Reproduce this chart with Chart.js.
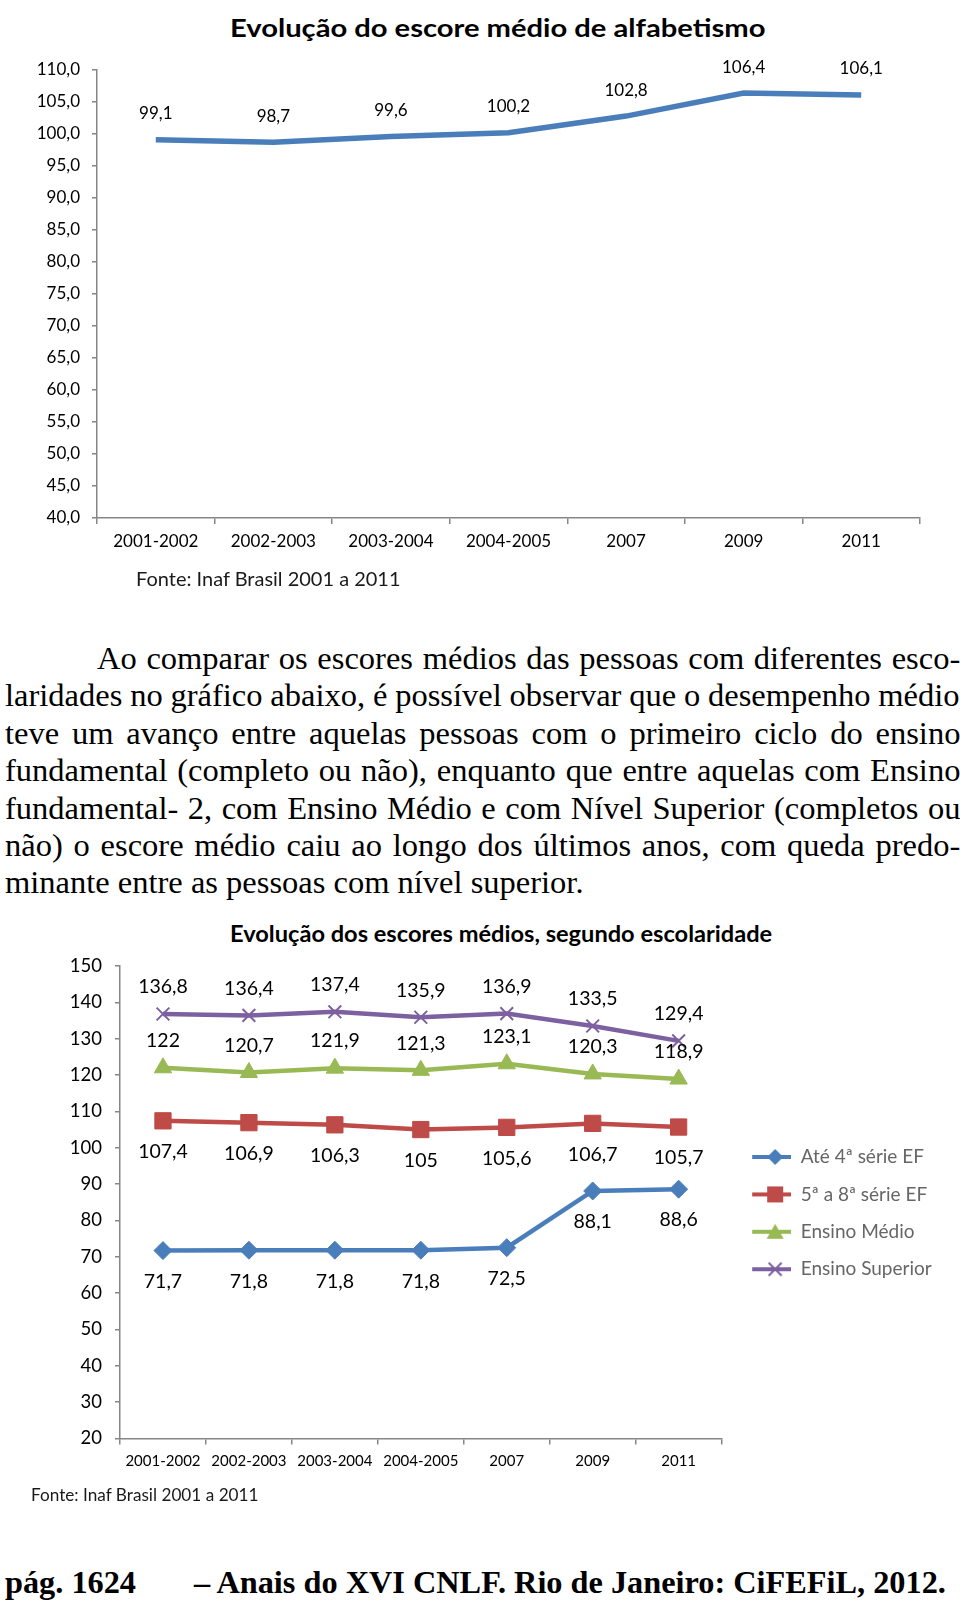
<!DOCTYPE html>
<html lang="pt-BR">
<head>
<meta charset="utf-8">
<title>Evolução do escore médio de alfabetismo</title>
<script src="https://cdn.jsdelivr.net/npm/chart.js@4.4.1/dist/chart.umd.min.js"></script>
<style>
    html, body { margin: 0; padding: 0; background: #fff; }
    body { width: 960px; height: 1603px; position: relative; overflow: hidden; font-family: Lato, sans-serif; color: #000; }
    canvas { position: absolute; left: 0; }
    #chart1 { top: 0; }
    #chart2 { top: 895px; }
    .chart-title { position: absolute; white-space: nowrap; font-weight: bold; line-height: 1; transform-origin: left center; }
    .source { position: absolute; white-space: nowrap; line-height: 1; color: #1a1a1a; transform-origin: left center; }
    .para { position: absolute; left: 5px; top: 640px; width: 955px; font-family: "Liberation Serif", "Times New Roman", serif; font-size: 32.5px; }
    .para div { height: 37.4px; line-height: 37.4px; white-space: nowrap; }
    .para div.first span { margin-left: 92px; }
    .footer { position: absolute; top: 1563px; font-family: "Liberation Serif", "Times New Roman", serif; font-weight: bold; font-size: 32.3px; white-space: nowrap; line-height: 38px; }
</style>
</head>
<body>

<div class="chart-title" data-w="535" style="left:230px; top:15px; font-size:25px;">Evolução do escore médio de alfabetismo</div>
<canvas id="chart1" width="960" height="600"></canvas>
<div class="source" data-w="265" style="left:136px; top:569px; font-size:19px;">Fonte: Inaf Brasil 2001 a 2011</div>

<div class="para">
    <div class="first"><span>Ao comparar os escores médios das pessoas com diferentes esco-</span></div>
    <div><span>laridades no gráfico abaixo, é possível observar que o desempenho médio</span></div>
    <div><span>teve um avanço entre aquelas pessoas com o primeiro ciclo do ensino</span></div>
    <div><span>fundamental (completo ou não), enquanto que entre aquelas com Ensino</span></div>
    <div><span>fundamental- 2, com Ensino Médio e com Nível Superior (completos ou</span></div>
    <div><span>não) o escore médio caiu ao longo dos últimos anos, com queda predo-</span></div>
    <div class="last"><span>minante entre as pessoas com nível superior.</span></div>
</div>

<div class="chart-title" data-w="542" style="left:230px; top:922px; font-size:23px;">Evolução dos escores médios, segundo escolaridade</div>
<canvas id="chart2" width="960" height="600"></canvas>
<div class="source" data-w="227" style="left:31px; top:1487px; font-size:16.5px;">Fonte: Inaf Brasil 2001 a 2011</div>

<div class="footer" style="left:5px;">pág. 1624</div>
<div class="footer" style="left:194px;">– Anais do XVI CNLF. Rio de Janeiro: CiFEFiL, 2012.</div>

<script>
// Categories (same for both charts)
const years = ['2001-2002', '2002-2003', '2003-2004', '2004-2005', '2007', '2009', '2011'];

// Chart 1: escore médio geral
const escoreMedio = [99.1, 98.7, 99.6, 100.2, 102.8, 106.4, 106.1];
const yMin1 = 40, yMax1 = 110, yStep1 = 5;

// Chart 2: escores por escolaridade
const seriesNames = ['Até 4ª série EF', '5ª a 8ª série EF', 'Ensino Médio', 'Ensino Superior'];
const ate4Serie = [71.7, 71.8, 71.8, 71.8, 72.5, 88.1, 88.6];
const serie5a8 = [107.4, 106.9, 106.3, 105, 105.6, 106.7, 105.7];
const ensinoMedio = [122, 120.7, 121.9, 121.3, 123.1, 120.3, 118.9];
const ensinoSuperior = [136.8, 136.4, 137.4, 135.9, 136.9, 133.5, 129.4];
const yMin2 = 20, yMax2 = 150, yStep2 = 10;

const axisColor = '#868686';
const comma = v => String(v).replace('.', ',');

// Stretch the title / source lines to the width they have in the original picture
document.querySelectorAll('[data-w]').forEach(el => {
    const w = parseFloat(el.dataset.w);
    el.style.transform = 'scaleX(' + (w / el.offsetWidth) + ')';
});

// Justify the paragraph line by line (each line kept as in the page)
document.querySelectorAll('.para div:not(.last)').forEach(line => {
    const span = line.querySelector('span');
    const indent = line.classList.contains('first') ? 92 : 0;
    const spaces = (span.textContent.match(/ /g) || []).length;
    const extra = line.clientWidth - indent - span.offsetWidth;
    if (spaces) span.style.wordSpacing = (extra / spaces) + 'px';
});

// Draws value labels next to each point, using the positions from the chart's scales
const pointLabels = {
    id: 'pointLabels',
    afterDatasetsDraw(chart, args, opts) {
        const ctx = chart.ctx;
        ctx.save();
        ctx.font = opts.font;
        ctx.fillStyle = '#000';
        ctx.textAlign = 'center';
        ctx.textBaseline = 'middle';
        chart.data.datasets.forEach((ds, i) => {
            const meta = chart.getDatasetMeta(i);
            meta.data.forEach((pt, j) => {
                ctx.fillText(opts.format(ds.data[j]), pt.x, pt.y + ds.labelOffset);
            });
        });
        ctx.restore();
    }
};

// Excel-style legend icon: short line with the marker in the middle
function legendIcon(color, style) {
    const c = document.createElement('canvas');
    c.width = 51;
    c.height = 20;
    const g = c.getContext('2d');
    g.strokeStyle = color;
    g.fillStyle = color;
    g.lineWidth = 4;
    g.beginPath();
    g.moveTo(12, 10);
    g.lineTo(51, 10);
    g.stroke();
    const cx = 35, cy = 10;
    g.beginPath();
    if (style === 'rectRot') {
        g.moveTo(cx, cy - 8); g.lineTo(cx + 8, cy); g.lineTo(cx, cy + 8); g.lineTo(cx - 8, cy); g.closePath(); g.fill();
    } else if (style === 'rect') {
        g.fillRect(cx - 8, cy - 8, 16, 16);
    } else if (style === 'triangle') {
        g.moveTo(cx, cy - 8); g.lineTo(cx + 8.5, cy + 7); g.lineTo(cx - 8.5, cy + 7); g.closePath(); g.fill();
    } else {
        g.lineWidth = 2;
        g.moveTo(cx - 6.5, cy - 6.5); g.lineTo(cx + 6.5, cy + 6.5);
        g.moveTo(cx + 6.5, cy - 6.5); g.lineTo(cx - 6.5, cy + 6.5);
        g.stroke();
    }
    return c;
}

function categoryAxis(fontSize, padding, height) {
    return {
        type: 'category',
        offset: true,
        grid: { offset: true, drawOnChartArea: false, tickLength: 6, color: axisColor, lineWidth: 1.5 },
        border: { color: axisColor, width: 1.5 },
        ticks: { color: '#000', font: { family: 'Lato', size: fontSize }, padding: padding, maxRotation: 0, autoSkip: false },
        afterFit(scale) { scale.height = height; }
    };
}

function valueAxis(min, max, step, fontSize, padding, width, fmt) {
    return {
        min: min,
        max: max,
        grid: { drawOnChartArea: false, tickLength: 5, color: axisColor, lineWidth: 1.5 },
        border: { color: axisColor, width: 1.5 },
        ticks: { stepSize: step, color: '#000', font: { family: 'Lato', size: fontSize }, padding: padding, callback: fmt },
        afterFit(scale) { scale.width = width; }
    };
}

// Chart 1
new Chart(document.getElementById('chart1'), {
    type: 'line',
    data: {
        labels: years,
        datasets: [{
            label: 'Escore médio',
            data: escoreMedio,
            borderColor: '#4a7ebb',
            borderWidth: 5.5,
            pointRadius: 0,
            tension: 0,
            labelOffset: -26
        }]
    },
    options: {
        responsive: false,
        animation: false,
        layout: { padding: { top: 70, right: 40, bottom: 0, left: 0 } },
        plugins: {
            legend: { display: false },
            tooltip: { enabled: false },
            pointLabels: { font: '17px Lato', format: v => v.toFixed(1).replace('.', ',') }
        },
        scales: {
            x: categoryAxis(17, 7, 82),
            y: valueAxis(yMin1, yMax1, yStep1, 17, 12, 97, v => v.toFixed(1).replace('.', ','))
        }
    },
    plugins: [pointLabels]
});

// Chart 2
const styles2 = [
    { color: '#4a7ebb', point: 'rectRot', radius: 9, offset: 31 },
    { color: '#be4b48', point: 'rect', radius: 11.5, offset: 31 },
    { color: '#98b954', point: 'triangle', radius: 10, offset: -27 },
    { color: '#7d60a0', point: 'crossRot', radius: 9, offset: -27 }
];
const values2 = [ate4Serie, serie5a8, ensinoMedio, ensinoSuperior];
const legendIcons = styles2.map(s => legendIcon(s.color, s.point));

new Chart(document.getElementById('chart2'), {
    type: 'line',
    data: {
        labels: years,
        datasets: values2.map((vals, i) => ({
            label: seriesNames[i],
            data: vals,
            borderColor: styles2[i].color,
            backgroundColor: styles2[i].color,
            borderWidth: 4.5,
            pointStyle: styles2[i].point,
            pointRadius: styles2[i].radius,
            pointBackgroundColor: styles2[i].color,
            pointBorderColor: styles2[i].color,
            pointBorderWidth: styles2[i].point === 'crossRot' ? 2 : 1,
            tension: 0,
            labelOffset: styles2[i].offset
        }))
    },
    options: {
        responsive: false,
        animation: false,
        layout: { padding: { top: 71, right: 18.3, bottom: 0, left: 0 } },
        plugins: {
            legend: {
                position: 'right',
                fullSize: false,
                align: 'start',
                // empty title used only as top spacing for the legend block
                title: { display: true, text: '', font: { size: 10 }, padding: { top: 151.1, bottom: 0 } },
                labels: {
                    usePointStyle: true,
                    pointStyleWidth: 51.3,
                    padding: 18.4,
                    color: '#000',
                    font: { family: 'Lato', size: 19 },
                    generateLabels(chart) {
                        return chart.data.datasets.map((ds, i) => ({
                            text: ds.label,
                            pointStyle: legendIcons[i],
                            datasetIndex: i,
                            hidden: false,
                            lineWidth: 0,
                            fillStyle: ds.borderColor,
                            strokeStyle: ds.borderColor
                        }));
                    }
                }
            },
            tooltip: { enabled: false },
            pointLabels: { font: '19.5px Lato', format: comma }
        },
        scales: {
            x: categoryAxis(15, 8, 56.5),
            y: valueAxis(yMin2, yMax2, yStep2, 18.5, 13, 120, v => String(v))
        }
    },
    plugins: [pointLabels]
});
</script>
</body>
</html>
